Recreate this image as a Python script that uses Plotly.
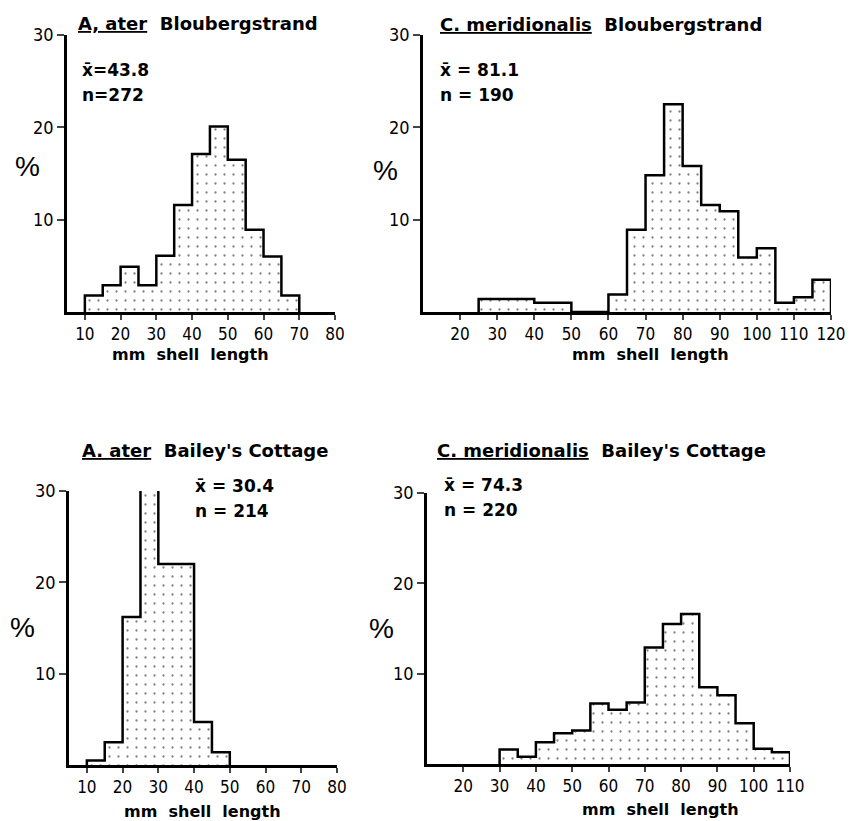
import plotly.graph_objects as go

# % frequency per 5 mm shell-length class
bin_width = 5

ater_blou_start = 10
ater_blou_pct = [1.8, 2.9, 4.9, 2.9, 6.1, 11.6, 17.1, 20.1, 16.5, 8.9, 6.0, 1.8]

meri_blou_start = 25
meri_blou_pct = [1.4, 1.4, 1.4, 1.0, 1.0, 0, 0, 1.9, 8.9, 14.8, 22.5, 15.8,
                 11.6, 10.9, 5.9, 6.9, 1.0, 1.6, 3.5]

ater_bail_start = 10
ater_bail_pct = [0.5, 2.5, 16.2, 30.2, 22.0, 22.0, 4.7, 1.4]

meri_bail_start = 30
meri_bail_pct = [1.6, 0.8, 2.4, 3.4, 3.7, 6.7, 6.0, 6.8, 12.9, 15.5, 16.6,
                 8.5, 7.6, 4.5, 1.7, 1.3]

titles = ["<u>A, ater</u>\u00a0\u00a0Bloubergstrand",
          "<u>C. meridionalis</u>\u00a0\u00a0Bloubergstrand",
          "<u>A. ater</u>\u00a0\u00a0Bailey's Cottage",
          "<u>C. meridionalis</u>\u00a0\u00a0Bailey's Cottage"]
means = ["43.8", "81.1", "30.4", "74.3"]
counts = ["272", "190", "214", "220"]
x_ranges = [[5, 80], [10, 120], [5, 80], [10, 110]]
x_ticks = [list(range(10, 81, 10)), list(range(20, 121, 10)),
           list(range(10, 81, 10)), list(range(20, 111, 10))]
y_ticks = [10, 20, 30]

W, H = 860, 821
def px(x):
    return x / W
def py(y):
    return 1 - y / H

# panel boxes in pixels: (left, right, top, bottom)
boxes = [(67, 335, 35, 312), (423, 831, 35, 312),
         (69, 337, 491, 765), (427, 790, 493, 764)]

series = [(ater_blou_start, ater_blou_pct), (meri_blou_start, meri_blou_pct),
          (ater_bail_start, ater_bail_pct), (meri_bail_start, meri_bail_pct)]

fig = go.Figure()
tick_font = dict(family="Liberation Sans Narrow, DejaVu Sans Condensed, Arial Narrow, DejaVu Sans, sans-serif",
                 size=17, color="black")
text_font = dict(family="DejaVu Sans, Verdana, sans-serif", size=18, color="black")

for i, (start, pct) in enumerate(series):
    n = "" if i == 0 else str(i + 1)
    edges = [start + bin_width * k for k in range(len(pct) + 1)]
    centers = [e + bin_width / 2 for e in edges[:-1]]
    fig.add_trace(go.Bar(
        x=centers, y=pct, width=bin_width, xaxis="x" + n, yaxis="y" + n,
        marker=dict(color="white", line=dict(width=0),
                    pattern=dict(shape=".", size=9, solidity=0.05,
                                 fgcolor="black", bgcolor="white")),
        cliponaxis=False, hoverinfo="skip"))
    # outer step outline
    fig.add_trace(go.Scatter(
        x=edges + [edges[-1]], y=[0] + pct + [0], xaxis="x" + n, yaxis="y" + n,
        mode="lines", line=dict(shape="vh", color="black", width=2.5),
        cliponaxis=False, hoverinfo="skip"))

    l, r, t, b = boxes[i]
    fig.layout["xaxis" + n] = dict(
        domain=[px(l), px(r)], range=x_ranges[i], anchor="y" + n,
        tickvals=x_ticks[i], ticks="outside", ticklen=5, tickwidth=2,
        showline=True, linewidth=2.5, linecolor="black", showgrid=False,
        zeroline=False, tickfont=tick_font, tickangle=0, automargin=False,
        ticklabelstandoff=0)
    fig.layout["yaxis" + n] = dict(
        domain=[py(b), py(t)], range=[0, 30], anchor="x" + n,
        tickvals=y_ticks, ticks="outside", ticklen=7, tickwidth=2,
        showline=True, linewidth=2.5, linecolor="black", showgrid=False,
        zeroline=False, tickfont=dict(tick_font, size=18), automargin=False,
        ticklabelstandoff=0)

# titles, stats, axis labels
title_pos = [(76, 24), (438, 25), (80, 450), (435, 450)]
stat_pos = [(80, 70, 95), (438, 70, 95), (193, 486, 511), (442, 485, 510)]
stat_sep = ["=", " = ", " = ", " = "]
pct_pos = [(27, 166), (385, 171), (22, 627), (381, 628)]
xlab_pos = [(190, 354), (650, 354), (202, 811), (660, 809)]

for i in range(4):
    tx, ty = title_pos[i]
    fig.add_annotation(x=px(tx), y=py(ty), xref="paper", yref="paper",
                       text="<b>" + titles[i] + "</b>", showarrow=False,
                       xanchor="left", yanchor="middle", font=text_font)
    sx, sy1, sy2 = stat_pos[i]
    fig.add_annotation(x=px(sx), y=py(sy1), xref="paper", yref="paper",
                       text="<b>x\u0304" + stat_sep[i] + means[i] + "</b>", showarrow=False,
                       xanchor="left", yanchor="middle", font=dict(text_font, size=17))
    fig.add_annotation(x=px(sx), y=py(sy2), xref="paper", yref="paper",
                       text="<b>n" + stat_sep[i] + counts[i] + "</b>", showarrow=False,
                       xanchor="left", yanchor="middle", font=dict(text_font, size=17))
    cx, cy = pct_pos[i]
    fig.add_annotation(x=px(cx), y=py(cy), xref="paper", yref="paper",
                       text="%", showarrow=False, xanchor="center", yanchor="middle",
                       font=dict(family="Liberation Sans, sans-serif", size=28, color="black"))
    lx, ly = xlab_pos[i]
    fig.add_annotation(x=px(lx), y=py(ly), xref="paper", yref="paper",
                       text="<b>mm\u00a0\u00a0shell\u00a0\u00a0length</b>", showarrow=False,
                       xanchor="center", yanchor="middle", font=dict(text_font, size=16))

fig.update_layout(width=W, height=H, margin=dict(l=0, r=0, t=0, b=0),
                  plot_bgcolor="white", paper_bgcolor="white",
                  showlegend=False, barmode="overlay")

fig.write_html("out.html", config={"displayModeBar": False},
               post_script="document.body.style.margin='0px';")
